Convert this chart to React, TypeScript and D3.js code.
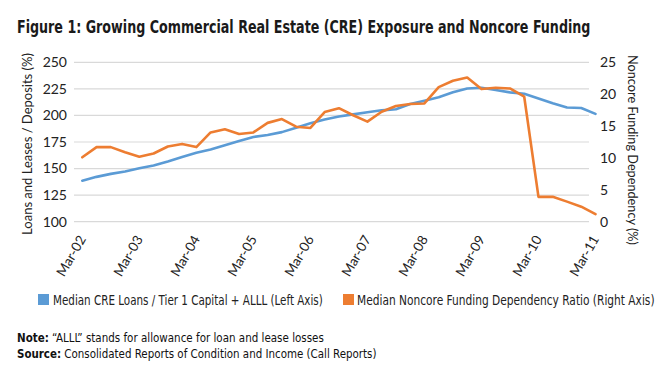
import React, { useLayoutEffect, useRef, useState } from "react";
import * as d3 from "d3";

const quarters = [
  "Mar-02","Jun-02","Sep-02","Dec-02","Mar-03","Jun-03","Sep-03","Dec-03",
  "Mar-04","Jun-04","Sep-04","Dec-04","Mar-05","Jun-05","Sep-05","Dec-05",
  "Mar-06","Jun-06","Sep-06","Dec-06","Mar-07","Jun-07","Sep-07","Dec-07",
  "Mar-08","Jun-08","Sep-08","Dec-08","Mar-09","Jun-09","Sep-09","Dec-09",
  "Mar-10","Jun-10","Sep-10","Dec-10","Mar-11",
];

const creLoans = [
  138.6, 142.2, 145.0, 147.2, 150.2, 152.9, 156.7, 160.9,
  164.8, 167.9, 171.9, 175.9, 179.7, 181.6, 184.3, 188.5,
  192.6, 196.1, 199.0, 201.0, 203.0, 204.8, 205.8, 210.8,
  213.8, 217.1, 221.8, 225.3, 226.0, 224.0, 221.7, 220.4,
  216.0, 211.5, 207.5, 207.0, 201.5,
];

const noncore = [
  10.1, 11.7, 11.7, 10.9, 10.2, 10.7, 11.8, 12.2,
  11.7, 14.0, 14.5, 13.75, 14.0, 15.5, 16.1, 14.9,
  14.7, 17.2, 17.8, 16.7, 15.7, 17.25, 18.15, 18.45,
  18.55, 21.1, 22.1, 22.6, 20.8, 21.0, 20.9, 19.6,
  3.9, 3.9, 3.15, 2.35, 1.2,
];

const leftTicks = [100, 125, 150, 175, 200, 225, 250];
const rightTicks = [0, 5, 10, 15, 20, 25];
const xTickLabels = ["Mar-02","Mar-03","Mar-04","Mar-05","Mar-06","Mar-07","Mar-08","Mar-09","Mar-10","Mar-11"];

const seriesNames = [
  "Median CRE Loans / Tier 1 Capital + ALLL (Left Axis)",
  "Median Noncore Funding Dependency Ratio (Right Axis)",
];

const BLUE = "#5B9BD5";
const ORANGE = "#ED7D31";
const GRID = "#d9d9d9";
const TXT = "#222";
const CONDENSED = "'Liberation Sans Narrow', 'DejaVu Sans Condensed', Roboto, sans-serif";
const AXISFONT = "Lato, 'Open Sans', sans-serif";

type FitProps = {
  x: number;
  y: number;
  width: number;
  rotate?: number;
  anchor?: "start" | "middle" | "end";
  children: React.ReactNode;
  [k: string]: any;
};

function FitText({ x, y, width, rotate = 0, anchor = "start", children, ...rest }: FitProps) {
  const ref = useRef<SVGTextElement>(null);
  const [s, setS] = useState(1);
  useLayoutEffect(() => {
    if (ref.current) {
      const w = ref.current.getComputedTextLength();
      if (w > 0) setS(width / w);
    }
  }, [width]);
  return (
    <text
      ref={ref}
      x={0}
      y={0}
      textAnchor={anchor}
      transform={`translate(${x},${y}) rotate(${rotate}) scale(${s},1)`}
      {...rest}
    >
      {children}
    </text>
  );
}

export default function App() {
  const x = d3.scalePoint<string>().domain(quarters).range([82.3, 595.5]);
  const yL = d3.scaleLinear().domain([100, 250]).range([221.7, 62.3]);
  const yR = d3.scaleLinear().domain([0, 25]).range([221.7, 62.3]);

  const lineL = d3.line<number>().x((_, i) => x(quarters[i])!).y((d) => yL(d));
  const lineR = d3.line<number>().x((_, i) => x(quarters[i])!).y((d) => yR(d));

  const gridX0 = 74;
  const gridX1 = 589;

  return (
    <svg
      width={662}
      height={376}
      style={{ position: "absolute", left: 0, top: 0, display: "block", background: "#fff" }}
    >
      <rect width={662} height={376} fill="#fff" />
      <FitText x={17} y={33} width={574} fontFamily={CONDENSED} fontWeight="bold" fontSize={18} fill="#1a1a1a">
        Figure 1: Growing Commercial Real Estate (CRE) Exposure and Noncore Funding
      </FitText>

      {leftTicks.map((t) => (
        <line key={"g" + t} x1={gridX0} x2={gridX1} y1={yL(t)} y2={yL(t)} stroke={GRID} strokeWidth={1.2} />
      ))}

      {leftTicks.map((t) => (
        <text key={"l" + t} x={67} y={yL(t)} dy="0.35em" textAnchor="end" fontFamily={AXISFONT} fontSize={14} fill={TXT}>
          {t}
        </text>
      ))}
      {rightTicks.map((t) => (
        <text key={"r" + t} x={600} y={yR(t)} dy="0.35em" textAnchor="start" fontFamily={AXISFONT} fontSize={14} fill={TXT}>
          {t}
        </text>
      ))}

      {xTickLabels.map((lab) => {
        const px = x(lab)! + 4;
        const py = 239;
        return (
          <text
            key={lab}
            x={px}
            y={py}
            textAnchor="end"
            fontFamily={AXISFONT}
            fontSize={13.5}
            fill={TXT}
            transform={`rotate(-60, ${px}, ${py})`}
          >
            {lab}
          </text>
        );
      })}

      <FitText x={27} y={144} width={182} rotate={-90} anchor="middle" dy="0.35em" fontFamily={AXISFONT} fontSize={14} fill={TXT}>
        Loans and Leases / Deposits (%)
      </FitText>
      <FitText x={633} y={150} width={190} rotate={90} anchor="middle" dy="0.35em" fontFamily={AXISFONT} fontSize={14} fill={TXT}>
        Noncore Funding Dependency (%)
      </FitText>

      <path d={lineL(creLoans)!} fill="none" stroke={BLUE} strokeWidth={2.6} strokeLinejoin="round" strokeLinecap="round" />
      <path d={lineR(noncore)!} fill="none" stroke={ORANGE} strokeWidth={2.6} strokeLinejoin="round" strokeLinecap="round" />

      <rect x={38} y={294} width={11} height={11} fill={BLUE} />
      <FitText x={53} y={304.5} width={270} fontFamily={CONDENSED} fontSize={14} fill={TXT}>
        {seriesNames[0]}
      </FitText>
      <rect x={343} y={294} width={11} height={11} fill={ORANGE} />
      <FitText x={357} y={304.5} width={298} fontFamily={CONDENSED} fontSize={14} fill={TXT}>
        {seriesNames[1]}
      </FitText>

      <FitText x={17} y={342} width={307} fontFamily={CONDENSED} fontSize={12.5} fill="#111">
        <tspan fontWeight="bold">Note:</tspan> “ALLL” stands for allowance for loan and lease losses
      </FitText>
      <FitText x={17} y={358} width={360} fontFamily={CONDENSED} fontSize={12.5} fill="#111">
        <tspan fontWeight="bold">Source:</tspan> Consolidated Reports of Condition and Income (Call Reports)
      </FitText>
    </svg>
  );
}
